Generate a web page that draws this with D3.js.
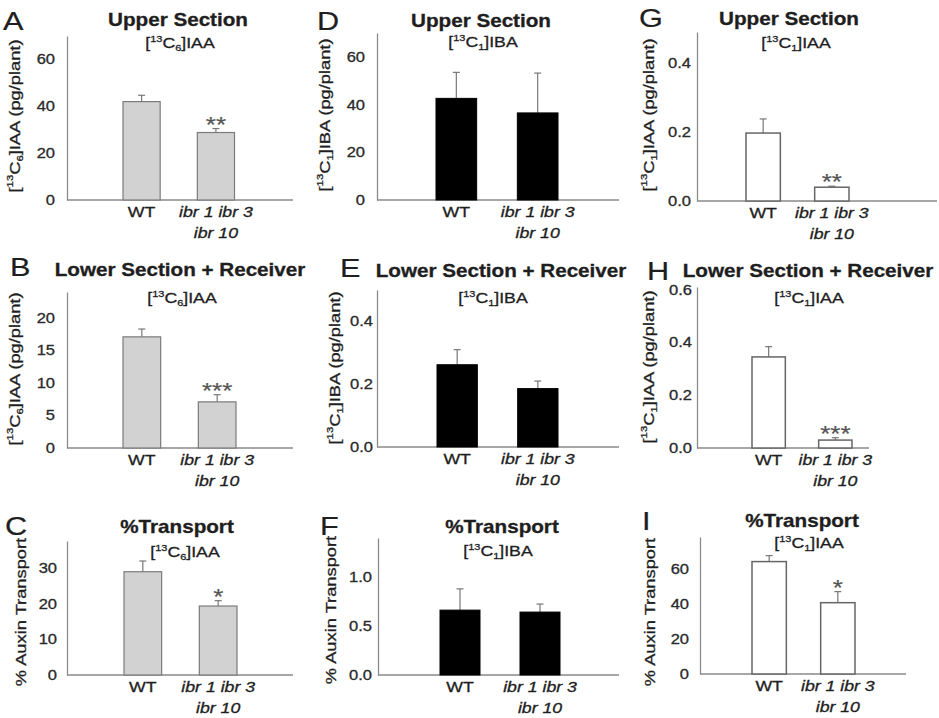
<!DOCTYPE html>
<meta charset="utf-8">
<style type="text/css">
body {
  margin: 0;
  background: #fff;
}
text {
  font-family: Arial, "Liberation Sans", Helvetica, sans-serif;
  fill: #1e1e1e;
  stroke: #1e1e1e;
  stroke-width: 0.3px;
}
.letter { font-size: 26px; stroke-width: 0.2px; }
.title { font-size: 17.5px; font-weight: bold; }
.sub { font-size: 15px; }
.ylab { font-size: 15.5px; }
.tick text { font-size: 14px; fill: #2a2a2a; stroke: #2a2a2a; }
.xlab { font-size: 15px; }
.xlab.mut { font-style: italic; }
.star { font-size: 22px; fill: #555; stroke: #555; stroke-width: 0.2px; }
.axis path, .baseline {
  stroke: #8a8a8a;
  stroke-width: 1.3;
  fill: none;
}
.err { stroke: #777; stroke-width: 1.2; }
</style>
<body>
<svg id="svg" width="939" height="718"></svg>

<script src="https://cdn.jsdelivr.net/npm/d3@7"></script>
<script>
// genotypes on the x axis
const genotypes = ["WT", "ibr 1 ibr 3 ibr 10"];
const genotypeLines = [["WT"], ["ibr 1 ibr 3", "ibr 10"]];

// panels A..I, column by column
const panelIds = ["A", "B", "C", "D", "E", "F", "G", "H", "I"];
const sections = ["Upper Section", "Lower Section + Receiver", "%Transport"];

// one labelled compound per column
const isoMass = ["13", "13", "13"];
const isoCount = ["6", "1", "1"];
const compoundName = ["IAA", "IBA", "IAA"];

// mean and error (upper half) per panel, [WT, ibr1 ibr3 ibr10]
const means = [
  [42.0, 28.8], [17.1, 7.1], [28.9, 19.3],
  [42.6, 36.5], [0.262, 0.186], [0.663, 0.643],
  [0.197, 0.040], [0.345, 0.030], [64.0, 40.6]
];
const errors = [
  [2.7, 1.7], [1.2, 1.1], [3.0, 1.5],
  [10.9, 16.7], [0.048, 0.024], [0.217, 0.082],
  [0.041, 0.003], [0.039, 0.009], [3.4, 6.3]
];
const stars = [
  ["", "**"], ["", "***"], ["", "*"],
  ["", ""], ["", ""], ["", ""],
  ["", "**"], ["", "***"], ["", "*"]
];

// y axis
const yMax = [70, 24, 37.5, 70, 0.5, 1.4, 0.49, 0.61, 78];
const yTicks = [
  [0, 20, 40, 60], [0, 5, 10, 15, 20], [0, 10, 20, 30],
  [0, 20, 40, 60], [0, 0.2, 0.4], [0, 0.5, 1.0],
  [0, 0.2, 0.4], [0, 0.2, 0.4, 0.6], [0, 20, 40, 60]
];

// where each panel sits on the page
const layout = [
  {ax: 67,  top: 36,  base: 200, xEnd: 293, band: [123, 234.5], pad: 12, letter: [3, 30],    title: [178, 26],  sub: [180, 48],  ylab: [20, 116]},
  {ax: 67,  top: 292, base: 448, xEnd: 293, band: [123, 236],   pad: 12, letter: [10, 276],  title: [180, 276], sub: [182, 303], ylab: [20, 369]},
  {ax: 67,  top: 541, base: 675, xEnd: 293, band: [124, 237],   pad: 10, letter: [5, 535],   title: [177, 533], sub: [185, 557], ylab: [26, 612]},
  {ax: 377, top: 33,  base: 200, xEnd: 619, band: [436, 558],   pad: 12, letter: [317, 30],  title: [481, 27],  sub: [483, 47],  ylab: [330, 115]},
  {ax: 377, top: 290, base: 447, xEnd: 619, band: [437, 558],   pad: 4,  letter: [340, 277], title: [501, 277], sub: [493, 303], ylab: [340, 368]},
  {ax: 378, top: 538, base: 675, xEnd: 619, band: [440, 560],   pad: 6,  letter: [320, 535], title: [502, 533], sub: [498, 556], ylab: [336, 610]},
  {ax: 697, top: 32,  base: 201, xEnd: 937, band: [746, 849],   pad: 6,  letter: [639, 27],  title: [789, 25],  sub: [796, 48],  ylab: [654, 115]},
  {ax: 697, top: 287, base: 448, xEnd: 869, band: [752, 852],   pad: 5,  letter: [647, 280], title: [808, 277], sub: [809, 303], ylab: [654, 367]},
  {ax: 700, top: 537, base: 674, xEnd: 906, band: [752, 855],   pad: 11, letter: [642, 530], title: [802, 527], sub: [809, 548], ylab: [655, 612]}
];

// bar look per column
const barFill = ["#d2d2d2", "#000", "#fff"];
const barStroke = ["#7b7b7b", "#000", "#666"];
const barStrokeW = [1.2, 1, 1.5];

// the figure's type runs wide, so stretch every text along its baseline
const SX = 1.18;

const svg = d3.select("#svg");

function addText(g, x, y, cls, str, rotate) {
  return g.append("text")
    .attr("class", cls)
    .attr("transform", "translate(" + x + "," + y + ")" + (rotate ? " rotate(-90)" : "") + " scale(" + SX + ",1)")
    .text(str);
}

// [13C6]IAA style label with super/subscript
function isoLabel(t, k, suffix, fs) {
  t.append("tspan").text("[");
  t.append("tspan").attr("font-size", fs * 0.62).attr("dy", -fs * 0.42).text(isoMass[k]);
  t.append("tspan").attr("dy", fs * 0.42).text("C");
  t.append("tspan").attr("font-size", fs * 0.62).attr("dy", fs * 0.22).text(isoCount[k]);
  t.append("tspan").attr("dy", -fs * 0.22).text("]" + compoundName[k] + suffix);
}

panelIds.forEach((id, i) => {
  const col = Math.floor(i / 3), row = i % 3;
  const L = layout[i];
  const g = svg.append("g").attr("class", "panel panel-" + id);

  const y = d3.scaleLinear().domain([0, yMax[i]]).range([L.base, L.top]);
  const x = d3.scaleBand().domain(genotypes).range(L.band).paddingInner(0.5).paddingOuter(0);

  // y axis, no tick marks
  const fmt = yMax[i] < 2 ? d3.format(".1f") : d3.format("d");
  const yAxis = g.append("g")
    .attr("class", "axis")
    .attr("transform", "translate(" + L.ax + ",0)")
    .call(d3.axisLeft(y).tickValues(yTicks[i]).tickFormat(fmt).tickSize(0).tickPadding(L.pad / SX));
  yAxis.selectAll(".tick text").attr("transform", "scale(" + SX + ",1)");

  // x baseline
  g.append("line")
    .attr("class", "baseline")
    .attr("x1", L.ax).attr("x2", L.xEnd)
    .attr("y1", y(0)).attr("y2", y(0));

  const rows = genotypes.map((gt, j) => ({gt: gt, m: means[i][j], e: errors[i][j], s: stars[i][j]}));

  // error bars (upper half only)
  const eb = g.selectAll(".eb").data(rows).enter().append("g").attr("class", "eb");
  eb.append("line").attr("class", "err")
    .attr("x1", d => x(d.gt) + x.bandwidth() / 2).attr("x2", d => x(d.gt) + x.bandwidth() / 2)
    .attr("y1", d => y(d.m)).attr("y2", d => y(d.m + d.e));
  eb.append("line").attr("class", "err")
    .attr("x1", d => x(d.gt) + x.bandwidth() / 2 - 3.5).attr("x2", d => x(d.gt) + x.bandwidth() / 2 + 3.5)
    .attr("y1", d => y(d.m + d.e)).attr("y2", d => y(d.m + d.e));

  // bars
  g.selectAll(".bar").data(rows).enter().append("rect")
    .attr("class", "bar")
    .attr("x", d => x(d.gt))
    .attr("width", x.bandwidth())
    .attr("y", d => y(d.m))
    .attr("height", d => y(0) - y(d.m))
    .attr("fill", barFill[col])
    .attr("stroke", barStroke[col])
    .attr("stroke-width", barStrokeW[col]);

  // significance stars
  rows.filter(d => d.s).forEach(d => {
    addText(g, x(d.gt) + x.bandwidth() / 2, y(d.m + d.e) + 3, "star", d.s)
      .attr("text-anchor", "middle");
  });

  // genotype labels
  genotypes.forEach((gt, j) => {
    genotypeLines[j].forEach((ln, k) => {
      addText(g, x(gt) + x.bandwidth() / 2, y(0) + 17 + k * 20.5, j ? "xlab mut" : "xlab", ln)
        .attr("text-anchor", "middle");
    });
  });

  // titles
  addText(g, L.letter[0], L.letter[1], "letter", id);
  addText(g, L.title[0], L.title[1], "title", sections[row]).attr("text-anchor", "middle");
  const st = addText(g, L.sub[0], L.sub[1], "sub", "").attr("text-anchor", "middle");
  isoLabel(st, col, "", 15);

  // y axis label
  const yl = addText(g, L.ylab[0], L.ylab[1], "ylab", "", true).attr("text-anchor", "middle");
  if (row < 2) isoLabel(yl, col, " (pg/plant)", 15.5);
  else yl.text("% Auxin Transport");
});
</script>
</body>
